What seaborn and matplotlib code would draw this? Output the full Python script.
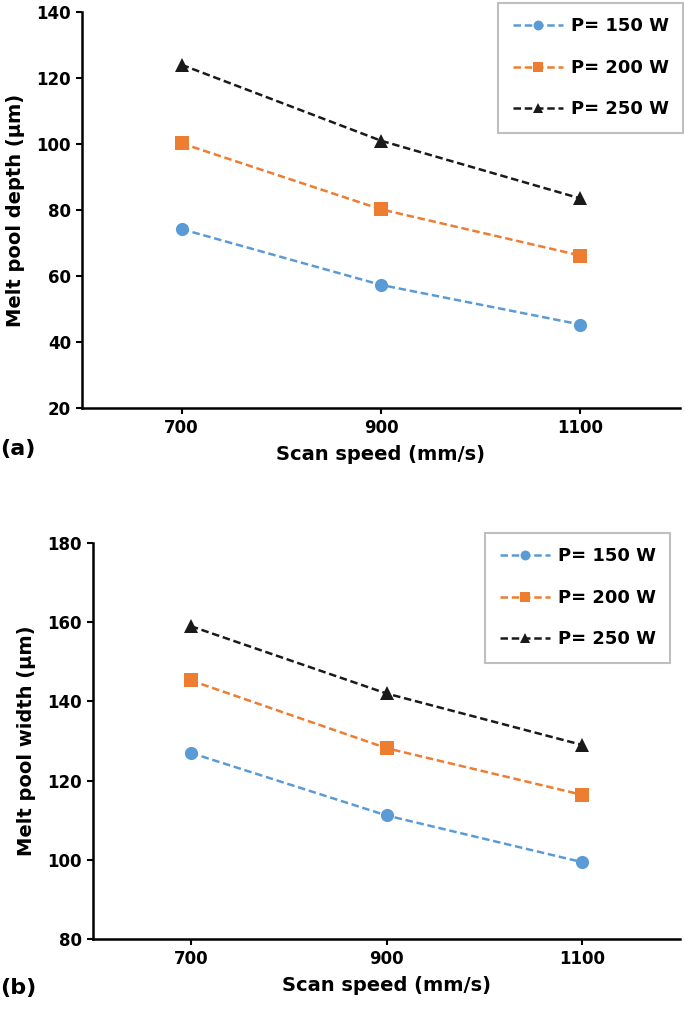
import pandas as pd
import matplotlib
matplotlib.use("Agg")
import matplotlib.pyplot as plt
import seaborn as sns

# data
scan_speed = [700, 900, 1100]
powers = ["P= 150 W", "P= 200 W", "P= 250 W"]
depth_150 = [74.2, 57.3, 45.3]
depth_200 = [100.2, 80.2, 66.2]
depth_250 = [124.0, 101.0, 83.5]
width_150 = [127.0, 111.2, 99.4]
width_200 = [145.3, 128.2, 116.4]
width_250 = [159.0, 142.0, 129.0]

colors = {"P= 150 W": "#5B9BD5", "P= 200 W": "#ED7D31", "P= 250 W": "#1a1a1a"}
markers = {"P= 150 W": "o", "P= 200 W": "s", "P= 250 W": "^"}
dashes = {p: (3, 1.5) for p in powers}


def to_frame(series):
    rows = []
    for p, vals in zip(powers, series):
        for s, v in zip(scan_speed, vals):
            rows.append({"speed": s, "value": v, "power": p})
    return pd.DataFrame(rows)


df_depth = to_frame([depth_150, depth_200, depth_250])
df_width = to_frame([width_150, width_200, width_250])

sns.set_style("ticks")
plt.rcParams["font.family"] = ["DejaVu Sans"]
plt.rcParams["font.weight"] = "bold"
plt.rcParams["text.color"] = "black"

W, H = 685, 1009
fig = plt.figure(figsize=(W / 100, H / 100), dpi=100)
ax1 = fig.add_axes([82 / W, 1 - 408 / H, 598 / W, 396 / H])
ax2 = fig.add_axes([93 / W, 1 - 939 / H, 587 / W, 396 / H])


def draw(ax, df, ylabel, ylim, yticks, legend_anchor, tag, tag_y):
    sns.lineplot(data=df, x="speed", y="value", hue="power", style="power",
                 palette=colors, markers=markers, dashes=dashes,
                 markersize=9.5, markeredgewidth=0, linewidth=1.8, ax=ax)
    ax.set_xlim(600, 1200)
    ax.set_ylim(*ylim)
    ax.set_xticks(scan_speed)
    ax.set_yticks(yticks)
    ax.tick_params(labelsize=12, length=4, width=1.5, colors="black", pad=4)
    for lab in ax.get_xticklabels() + ax.get_yticklabels():
        lab.set_fontweight("bold")
    sns.despine(ax=ax)
    for sp in ("left", "bottom"):
        ax.spines[sp].set_linewidth(1.8)
        ax.spines[sp].set_color("black")
    ax.set_xlabel("Scan speed (mm/s)", fontsize=14, fontweight="bold", labelpad=6,
                  color="black")
    ax.set_ylabel(ylabel, fontsize=14, fontweight="bold", labelpad=8, color="black")
    leg = ax.legend(loc="upper right", bbox_to_anchor=legend_anchor,
                    bbox_transform=fig.transFigure, fontsize=13,
                    frameon=True, fancybox=False, edgecolor="#b0b0b0",
                    labelspacing=1.3, handlelength=2.8, borderpad=0.8,
                    borderaxespad=0, handletextpad=0.4, markerscale=0.75)
    leg.get_frame().set_linewidth(1.5)
    for t in leg.get_texts():
        t.set_fontweight("bold")
    fig.text(0.0, tag_y, tag, fontsize=16, fontweight="bold", ha="left", va="center")


draw(ax1, df_depth, "Melt pool depth (\u03bcm)", (20, 140), range(20, 141, 20),
     (683 / W, 1 - 3 / H), "(a)", 1 - 449 / H)
draw(ax2, df_width, "Melt pool width (\u03bcm)", (80, 180), range(80, 181, 20),
     (670 / W, 1 - 533 / H), "(b)", 1 - 988 / H)

fig.savefig("out.png", dpi=100)
